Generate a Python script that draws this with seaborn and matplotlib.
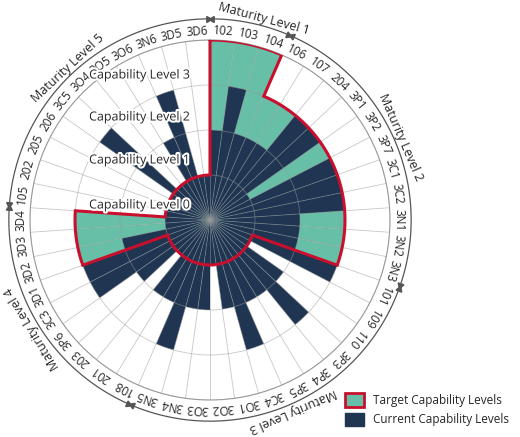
## capability radar: current vs target capability level per practice, grouped by maturity level
import numpy as np
import matplotlib
matplotlib.use('Agg')
import matplotlib.pyplot as plt
import matplotlib.patheffects as pe
from matplotlib.patches import Patch
import seaborn as sns

sns.set_style('white')
plt.rcParams['font.family'] = ['Open Sans', 'DejaVu Sans']

practices = ['102', '103', '104', '106', '107', '204', '3P1', '3P2', '3P7', '3C1', '3C2',
             '3N1', '3N2', '3N3', '101', '109', '110', '3P3', '3P4', '3P5', '3C4', '3O1',
             '3O2', '3O3', '3N4', '3N5', '108', '201', '203', '3P6', '3C3', '3D1', '3D2',
             '3D3', '3D4', '105', '202', '205', '206', '3C5', '3O4', '3O5', '3O6', '3N6',
             '3D5', '3D6']
current = [2, 3, 2, 2, 2, 3, 3, 1, 3, 3, 3,
           2, 2, 2, 3, 1, 2, 3, 2, 2, 3, 2,
           1, 2, 2, 3, 2, 2, 1, 2, 3, 3, 2,
           1, 1, 1, 1, 1, 1, 3, 1, 1, 2, 3,
           1, 1]
target = [4, 4, 4, 3, 3, 3, 3, 3, 3, 3, 3,
          3, 3, 3, 1, 1, 1, 1, 1, 1, 1, 1,
          1, 1, 1, 1, 1, 1, 1, 1, 1, 1, 3,
          3, 3, 1, 1, 1, 1, 1, 1, 1, 1, 1,
          1, 1]
# maturity groups: (label, first index, last index)
maturity = [('Maturity Level 1', 0, 2), ('Maturity Level 2', 3, 13),
            ('Maturity Level 3', 14, 25), ('Maturity Level 4', 26, 34),
            ('Maturity Level 5', 35, 45)]
cap_labels = ['Capability Level 3', 'Capability Level 2', 'Capability Level 1', 'Capability Level 0']

navy = '#1f3552'
teal = '#66bfa6'
red = '#c8102e'

n = len(practices)
width = 2 * np.pi / n
edges = np.arange(n + 1) * width
centers = edges[:-1] + width / 2

fig = plt.figure(figsize=(5.2, 4.37), dpi=100)
ax = fig.add_axes([30 / 520, 37 / 437, 360 / 520, 360 / 437], projection='polar')
ax.set_theta_zero_location('N')
ax.set_theta_direction(-1)

ax.bar(centers, target, width=width, bottom=0, color=teal, linewidth=0, zorder=1)
ax.bar(centers, current, width=width, bottom=0, color=navy, linewidth=0, zorder=2)

# red outline following the target levels
th, rr = [], []
for i in range(n):
    t = np.linspace(edges[i], edges[i + 1], 20)
    th.extend(t)
    rr.extend([target[i]] * len(t))
th.append(th[0])
rr.append(rr[0])
ax.plot(th, rr, color=red, lw=2.2, zorder=5, solid_joinstyle='miter')

ax.set_ylim(0, 4)
ax.set_yticks([1, 2, 3, 4])
ax.set_yticklabels([])
ax.set_xticks(edges[:-1])
ax.set_xticklabels([])
ax.grid(True, color='#9a9a9a', lw=0.6, alpha=0.55)
ax.set_axisbelow(False)
ax.spines['polar'].set_color('#9a9a9a')
ax.spines['polar'].set_linewidth(0.8)

for c, lab in zip(centers, practices):
    ax.text(c, 4.2, lab, rotation=-np.degrees(c), rotation_mode='anchor',
            ha='center', va='center', fontsize=8.5, clip_on=False)
ax.text(0, 0, '', zorder=6)

# maturity level arcs with arrows
for lab, a, b in maturity:
    t0 = edges[a] + 0.01
    t1 = edges[b + 1] - 0.01
    t = np.linspace(t0, t1, 100)
    ax.plot(t, [4.47] * len(t), color='#555555', lw=0.9, clip_on=False)
    ax.plot([t0], [4.47], marker=(3, 0, -np.degrees(t0) + 90), color='#555555',
            ms=5, clip_on=False)
    ax.plot([t1], [4.47], marker=(3, 0, -np.degrees(t1) - 90), color='#555555',
            ms=5, clip_on=False)
    mid = (t0 + t1) / 2
    if lab == 'Maturity Level 1':
        mid = np.radians(15)
    ax.text(mid, 4.62, lab, rotation=-np.degrees(mid), rotation_mode='anchor',
            ha='center', va='center', fontsize=9, clip_on=False)

halo = [pe.withStroke(linewidth=3, foreground='white')]
for lab, y in zip(cap_labels, [75, 117, 160, 205]):
    fig.text(140 / 520, 1 - y / 437, lab, ha='center', va='center', fontsize=9,
             path_effects=halo, zorder=10)

handles = [Patch(facecolor=teal, edgecolor=red, linewidth=2),
           Patch(facecolor=navy, edgecolor=navy)]
fig.legend(handles, ['Target Capability Levels', 'Current Capability Levels'],
           loc='lower right', bbox_to_anchor=(1.0, 0.0), frameon=False, fontsize=8.5,
           handlelength=1.6, handleheight=1.4)

plt.savefig('out.png', dpi=100)
